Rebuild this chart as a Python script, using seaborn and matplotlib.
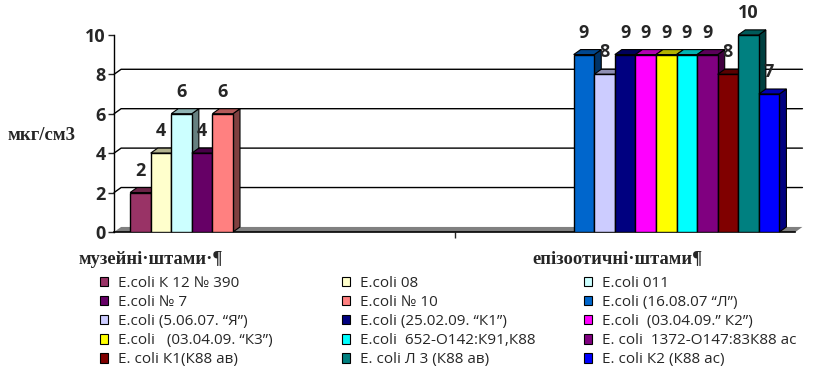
import matplotlib
matplotlib.use("Agg")
import matplotlib.pyplot as plt
import matplotlib.colors as mcolors
from matplotlib.patches import Polygon, Patch
import numpy as np
import pandas as pd
import seaborn as sns

# data
groups = ["музейні·штами·¶", "епізоотичні·штами¶"]
strains = [
    "E.coli К 12 № 390",
    "E.coli 08",
    "E.coli 011",
    "E.coli № 7",
    "E.coli № 10",
    "E.coli (16.08.07 “Л”)",
    "E.coli (5.06.07. “Я”)",
    "E.coli (25.02.09. “К1”)",
    "E.coli  (03.04.09.” К2”)",
    "E.coli   (03.04.09. “К3”)",
    "E.coli  652-О142:К91,К88",
    "E. coli  1372-О147:83К88 ас",
    "E. coli К1(К88 ав)",
    "E. coli Л 3 (К88 ав)",
    "E. coli К2 (К88 ас)",
]
strain_group = [0, 0, 0, 0, 0, 1, 1, 1, 1, 1, 1, 1, 1, 1, 1]
values = [2, 4, 6, 4, 6, 9, 8, 9, 9, 9, 9, 9, 8, 10, 7]
colors = ["#993366", "#FFFFCC", "#CCFFFF", "#660066", "#FF8080",
          "#0066CC", "#CCCCFF", "#000080", "#FF00FF", "#FFFF00",
          "#00FFFF", "#800080", "#800000", "#008080", "#0000FF"]
yticks = [0, 2, 4, 6, 8, 10]
y_label = "мкг/см3"

df = pd.DataFrame({
    "group": [groups[g] for g in strain_group],
    "strain": strains,
    "value": values,
})

sns.set_style("white")
plt.rcParams["font.family"] = ["Open Sans", "DejaVu Sans"]

fig = plt.figure(figsize=(8.15, 3.79), dpi=100)
ax = fig.add_axes([0.140, 0.388, 0.836, 0.520])

sns.barplot(data=df, x="group", y="value", hue="strain", order=groups,
            hue_order=strains, palette=colors, width=0.906, saturation=1,
            edgecolor="black", linewidth=1, legend=False, ax=ax)

ax.set_xlim(-0.5, 1.5)
ax.set_ylim(0, 10)

# fake 3d depth (~7px right, ~5px up)
dx = 7 / (0.836 * 815 / 2.0)
dy = 5 / (0.520 * 379 / 10.0)

bars = sorted([p for p in ax.patches if p.get_height() > 0], key=lambda p: p.get_x())
z = 3
for p in bars:
    x0 = p.get_x()
    w = p.get_width()
    h = p.get_height()
    c = np.array(mcolors.to_rgb(p.get_facecolor()))
    side = Polygon([(x0 + w, 0), (x0 + w, h), (x0 + w + dx, h + dy), (x0 + w + dx, dy)],
                   closed=True, fc=c * 0.5, ec="black", lw=0.8, zorder=z, clip_on=False)
    top = Polygon([(x0, h), (x0 + w, h), (x0 + w + dx, h + dy), (x0 + dx, h + dy)],
                  closed=True, fc=c * 0.7, ec="black", lw=0.8, zorder=z + 1, clip_on=False)
    ax.add_patch(side)
    ax.add_patch(top)
    p.set_zorder(z + 2)
    ax.text(x0 + w / 2, h + dy + 0.4, "%d" % h, ha="center", va="bottom",
            fontsize=13, fontweight="bold", zorder=100, clip_on=False)
    z += 3

# back wall gridlines + floor
for yv in yticks[1:-1]:
    ax.plot([-0.5, -0.5 + dx, 1.5 + dx], [yv, yv + dy, yv + dy], color="black",
            lw=1, zorder=1, clip_on=False)
floor = Polygon([(-0.5, 0), (1.5, 0), (1.5 + dx, dy), (-0.5 + dx, dy)], closed=True,
                fc="#808080", ec="none", zorder=1.5, clip_on=False)
ax.add_patch(floor)

sns.despine(ax=ax, top=True, right=True)
ax.spines["left"].set_color("black")
ax.spines["bottom"].set_color("black")
ax.spines["left"].set_linewidth(1)
ax.spines["bottom"].set_linewidth(1.2)
ax.set_yticks(yticks)
ax.set_yticklabels([str(t) for t in yticks], fontsize=13, fontweight="bold")
ax.tick_params(axis="y", direction="out", length=4, width=1, left=True, pad=2)
ax.set_xticks([0.5])
ax.set_xticklabels([""])
ax.tick_params(axis="x", direction="out", length=4, width=1, bottom=True)
ax.set_xlabel("")
ax.set_ylabel("")

fig.text(7 / 815, 1 - 135 / 379, y_label, fontfamily="Liberation Serif",
         fontweight="bold", fontsize=13.5, ha="left", va="center")
fig.text(78 / 815, 1 - 259 / 379, groups[0], fontfamily="Liberation Serif",
         fontweight="bold", fontsize=13.3, ha="left", va="center")
fig.text(532 / 815, 1 - 259 / 379, groups[1], fontfamily="Liberation Serif",
         fontweight="bold", fontsize=13.3, ha="left", va="center")

# legend, excel style: equal-width columns filled row by row
handles = [Patch(fc=c, ec="black", lw=0.8) for c in colors]
col_x = [100, 342, 584]
for k in range(3):
    idx = list(range(k, len(strains), 3))
    fig.legend([handles[i] for i in idx], [strains[i] for i in idx], ncol=1,
               loc="upper left", bbox_to_anchor=(col_x[k] / 815, 1 - 276 / 379),
               frameon=False, fontsize=11, handlelength=0.55, handleheight=0.55,
               handletextpad=0.6, labelspacing=0.27,
               borderpad=0, borderaxespad=0)

fig.savefig("out.png", dpi=100)
